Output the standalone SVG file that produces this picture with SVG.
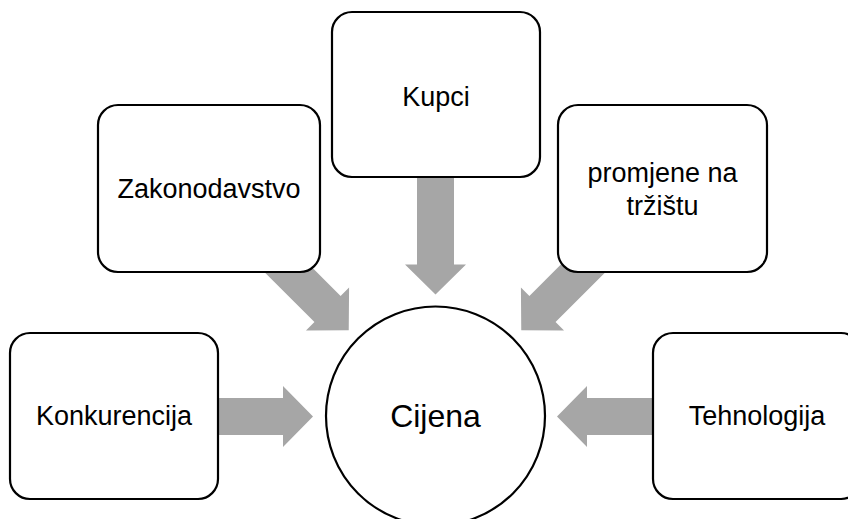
<svg xmlns="http://www.w3.org/2000/svg" width="848" height="519" viewBox="0 0 848 519">
<defs>
<style>
.box{fill:#fff;stroke:#000;stroke-width:2.2}
.arrow{fill:#A6A6A6}
.t{font-family:"Liberation Sans",Arial,sans-serif;font-size:27px;fill:#000;text-anchor:middle}
.big{font-size:32px}
</style>
<path id="arr" d="M -252 -18.5 L -152 -18.5 L -152 -30.5 L -122 0 L -152 30.5 L -152 18.5 L -252 18.5 Z"/>
</defs>
<rect width="848" height="519" fill="#fff"/>
<g id="connectors" class="arrow">
<use href="#arr" transform="translate(435 416.5) rotate(0)"/>
<use href="#arr" transform="translate(435 416.5) rotate(45)"/>
<use href="#arr" transform="translate(435.5 416.5) rotate(90)"/>
<use href="#arr" transform="translate(435 416.5) rotate(135)"/>
<use href="#arr" transform="translate(435 416.5) rotate(180)"/>
</g>
<g id="cijena">
<circle class="box" cx="435.5" cy="416" r="109.5"/>
<text class="t big" x="435.5" y="427">Cijena</text>
</g>
<g id="konkurencija">
<rect class="box" x="10" y="333" width="208" height="166" rx="20"/>
<text class="t" x="114" y="425">Konkurencija</text>
</g>
<g id="zakonodavstvo">
<rect class="box" x="98" y="105" width="222" height="167" rx="20"/>
<text class="t" x="209" y="198">Zakonodavstvo</text>
</g>
<g id="kupci">
<rect class="box" x="332" y="12" width="208" height="165" rx="20"/>
<text class="t" x="436" y="106">Kupci</text>
</g>
<g id="promjene">
<rect class="box" x="558" y="105" width="209" height="167" rx="20"/>
<text class="t" x="662.5" y="182">promjene na</text>
<text class="t" x="662.5" y="215">tržištu</text>
</g>
<g id="tehnologija">
<rect class="box" x="653" y="333" width="208" height="166" rx="20"/>
<text class="t" x="757" y="425">Tehnologija</text>
</g>
</svg>
